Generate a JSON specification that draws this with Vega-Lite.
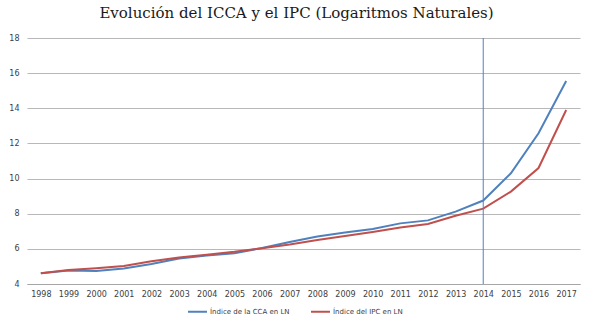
{
  "$schema": "https://vega.github.io/schema/vega-lite/v6.json",
  "autosize": "none",
  "width": 553,
  "height": 246,
  "padding": {"left": 27, "top": 38, "right": 13, "bottom": 40},
  "background": "white",
  "title": {
    "text": "Evolución del ICCA y el IPC (Logaritmos Naturales)",
    "font": "DejaVu Serif",
    "fontSize": 15,
    "fontWeight": "normal",
    "color": "#1a1a1a",
    "anchor": "middle",
    "offset": 13,
    "dx": -7
  },
  "data": {
    "values": [
      {"year": "1998", "serie": "Índice de la CCA en LN", "valor": 4.61},
      {"year": "1999", "serie": "Índice de la CCA en LN", "valor": 4.77},
      {"year": "2000", "serie": "Índice de la CCA en LN", "valor": 4.74},
      {"year": "2001", "serie": "Índice de la CCA en LN", "valor": 4.88},
      {"year": "2002", "serie": "Índice de la CCA en LN", "valor": 5.14},
      {"year": "2003", "serie": "Índice de la CCA en LN", "valor": 5.45},
      {"year": "2004", "serie": "Índice de la CCA en LN", "valor": 5.62},
      {"year": "2005", "serie": "Índice de la CCA en LN", "valor": 5.75},
      {"year": "2006", "serie": "Índice de la CCA en LN", "valor": 6.05},
      {"year": "2007", "serie": "Índice de la CCA en LN", "valor": 6.39},
      {"year": "2008", "serie": "Índice de la CCA en LN", "valor": 6.70},
      {"year": "2009", "serie": "Índice de la CCA en LN", "valor": 6.93},
      {"year": "2010", "serie": "Índice de la CCA en LN", "valor": 7.13},
      {"year": "2011", "serie": "Índice de la CCA en LN", "valor": 7.45},
      {"year": "2012", "serie": "Índice de la CCA en LN", "valor": 7.62},
      {"year": "2013", "serie": "Índice de la CCA en LN", "valor": 8.12},
      {"year": "2014", "serie": "Índice de la CCA en LN", "valor": 8.75},
      {"year": "2015", "serie": "Índice de la CCA en LN", "valor": 10.30},
      {"year": "2016", "serie": "Índice de la CCA en LN", "valor": 12.58},
      {"year": "2017", "serie": "Índice de la CCA en LN", "valor": 15.55},
      {"year": "1998", "serie": "Índice del IPC en LN", "valor": 4.61},
      {"year": "1999", "serie": "Índice del IPC en LN", "valor": 4.80},
      {"year": "2000", "serie": "Índice del IPC en LN", "valor": 4.90},
      {"year": "2001", "serie": "Índice del IPC en LN", "valor": 5.03},
      {"year": "2002", "serie": "Índice del IPC en LN", "valor": 5.29},
      {"year": "2003", "serie": "Índice del IPC en LN", "valor": 5.51},
      {"year": "2004", "serie": "Índice del IPC en LN", "valor": 5.67},
      {"year": "2005", "serie": "Índice del IPC en LN", "valor": 5.83},
      {"year": "2006", "serie": "Índice del IPC en LN", "valor": 6.03},
      {"year": "2007", "serie": "Índice del IPC en LN", "valor": 6.25},
      {"year": "2008", "serie": "Índice del IPC en LN", "valor": 6.51},
      {"year": "2009", "serie": "Índice del IPC en LN", "valor": 6.73},
      {"year": "2010", "serie": "Índice del IPC en LN", "valor": 6.96},
      {"year": "2011", "serie": "Índice del IPC en LN", "valor": 7.22},
      {"year": "2012", "serie": "Índice del IPC en LN", "valor": 7.42},
      {"year": "2013", "serie": "Índice del IPC en LN", "valor": 7.88},
      {"year": "2014", "serie": "Índice del IPC en LN", "valor": 8.29},
      {"year": "2015", "serie": "Índice del IPC en LN", "valor": 9.26},
      {"year": "2016", "serie": "Índice del IPC en LN", "valor": 10.60},
      {"year": "2017", "serie": "Índice del IPC en LN", "valor": 13.90}
    ]
  },
  "encoding": {
    "x": {
      "field": "year",
      "type": "ordinal",
      "scale": {"type": "point", "padding": 0.5},
      "axis": {
        "title": null,
        "labelAngle": 0,
        "labelFont": "DejaVu Sans",
        "labelFontSize": 8,
        "labelColor": "#404040",
        "labelPadding": 6,
        "ticks": false,
        "domainColor": "#a6a6a6",
        "grid": false
      }
    }
  },
  "layer": [
    {
      "mark": {"type": "line", "strokeWidth": 2},
      "encoding": {
        "y": {
          "field": "valor",
          "type": "quantitative",
          "scale": {"domain": [4, 18], "nice": false, "zero": false},
          "axis": {
            "title": null,
            "values": [4, 6, 8, 10, 12, 14, 16, 18],
            "labelFont": "DejaVu Sans",
            "labelFontSize": 8,
            "labelColor": "#404040",
            "labelPadding": 8,
            "ticks": false,
            "domain": false,
            "grid": true,
            "gridColor": "#b8b8b8",
            "gridWidth": 1
          }
        },
        "color": {
          "field": "serie",
          "type": "nominal",
          "scale": {
            "domain": ["Índice de la CCA en LN", "Índice del IPC en LN"],
            "range": ["#4F81BD", "#C0504D"]
          },
          "legend": {
            "title": null,
            "orient": "none",
            "direction": "horizontal",
            "legendX": 160,
            "legendY": 263,
            "symbolType": "stroke",
            "symbolSize": 360,
            "symbolStrokeWidth": 2,
            "labelFont": "DejaVu Sans",
            "labelFontSize": 7,
            "labelColor": "#404040",
            "labelOffset": 2,
            "columnPadding": 17
          }
        }
      }
    },
    {
      "data": {"values": [{"year": "2014"}]},
      "mark": {"type": "rule", "color": "#4F81BD", "strokeWidth": 1},
      "encoding": {
        "x": {"field": "year", "type": "ordinal"}
      }
    }
  ],
  "config": {
    "view": {"stroke": null}
  }
}
